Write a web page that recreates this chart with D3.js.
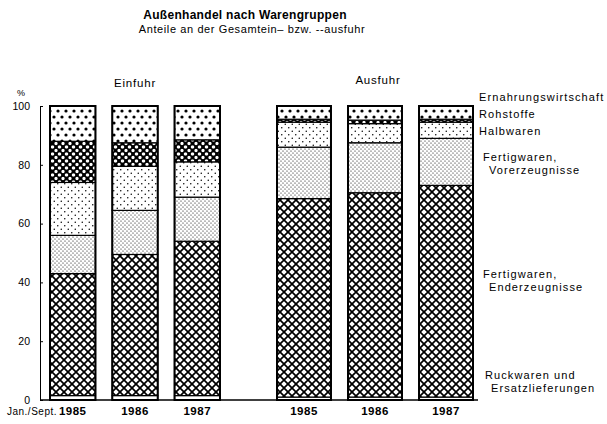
<!DOCTYPE html>
<html>
<head>
<meta charset="utf-8">
<script src="https://cdn.jsdelivr.net/npm/d3@7"></script>
<style>
  body { margin: 0; background: #fff; }
  svg { font-family: "Liberation Sans", Arial, sans-serif; }
</style>
</head>
<body>
<div id="chart"></div>
<script>
const WIDTH = 607;
const HEIGHT = 424;

// data, bottom segment first
const years = ["1985", "1986", "1987"];
const categories = ["rueckwaren", "enderzeugnisse", "vorerzeugnisse", "halbwaren", "rohstoffe", "ernaehrung"];
const einfuhrValues = [
    [1.5, 1.5, 1.5],
    [41.5, 48, 52.5],
    [13, 15, 15],
    [18, 15, 12],
    [14, 8, 7.5],
    [12, 12.5, 11.5]
];
const ausfuhrValues = [
    [1, 1, 1],
    [67.5, 69.5, 72],
    [17.5, 17, 16],
    [8.5, 6.5, 5.5],
    [1, 1.2, 1],
    [4.5, 4.8, 4.5]
];
const yTicks = [0, 20, 40, 60, 80, 100];
const legendLines = [
    ["Ernahrungswirtschaft"],
    ["Rohstoffe"],
    ["Halbwaren"],
    ["Fertigwaren,", "Vorerzeugnisse"],
    ["Fertigwaren,", "Enderzeugnisse"],
    ["Ruckwaren und", "Ersatzlieferungen"]
];

const svg = d3.select("#chart").append("svg").attr("width", WIDTH).attr("height", HEIGHT);
const defs = svg.append("defs");

// hatch / dot patterns like the print
function dotPattern(id, w, h, r, dots) {
    const p = defs.append("pattern").attr("id", id).attr("patternUnits", "userSpaceOnUse")
        .attr("width", w).attr("height", h);
    p.append("rect").attr("width", w).attr("height", h).attr("fill", "#fff");
    dots.forEach(d => p.append("circle").attr("cx", d[0]).attr("cy", d[1]).attr("r", r).attr("fill", "#000"));
    return p;
}
dotPattern("p-ern", 8, 12, 1.6, [[2, 3], [6, 9]]);
dotPattern("p-halb", 7, 7, 0.75, [[1.75, 1.75], [5.25, 5.25]]);
dotPattern("p-vor", 4, 4, 0.6, [[1, 1], [3, 3]]);

const roh = dotPattern("p-roh", 7, 7, 1.9, [[0, 0], [7, 0], [0, 7], [7, 7], [3.5, 3.5]]);
roh.append("path").attr("d", "M0,0L7,7M7,0L0,7").attr("stroke", "#000").attr("stroke-width", 1.6);

const end = defs.append("pattern").attr("id", "p-end").attr("patternUnits", "userSpaceOnUse")
    .attr("width", 8).attr("height", 8);
end.append("rect").attr("width", 8).attr("height", 8).attr("fill", "#fff");
end.append("path").attr("d", "M-1,-1L9,9M9,-1L-1,9").attr("stroke", "#000").attr("stroke-width", 1.7);

const fills = {
    rueckwaren: "#fff",
    enderzeugnisse: "url(#p-end)",
    vorerzeugnisse: "url(#p-vor)",
    halbwaren: "url(#p-halb)",
    rohstoffe: "url(#p-roh)",
    ernaehrung: "url(#p-ern)"
};

const yScale = d3.scaleLinear().domain([0, 100]).range([400, 106]);
const xEin = d3.scaleBand().domain(years).range([50, 220]).paddingInner(0.27);
const xAus = d3.scaleBand().domain(years).range([277, 473]).paddingInner(0.24);

function toRows(values) {
    return years.map((y, i) => {
        const row = { year: y };
        categories.forEach((c, k) => row[c] = values[k][i]);
        return row;
    });
}

const stack = d3.stack().keys(categories);

function drawGroup(values, x) {
    const series = stack(toRows(values));
    const g = svg.append("g");
    g.selectAll("g.layer")
        .data(series)
        .join("g")
        .attr("class", "layer")
        .attr("fill", d => fills[d.key])
        .selectAll("rect")
        .data(d => d)
        .join("rect")
        .attr("x", d => x(d.data.year))
        .attr("width", x.bandwidth())
        .attr("y", d => yScale(d[1]))
        .attr("height", d => yScale(d[0]) - yScale(d[1]))
        .attr("stroke", "#000")
        .attr("stroke-width", 1.2);
    // heavier outline round each bar
    g.selectAll("rect.outline")
        .data(years)
        .join("rect")
        .attr("class", "outline")
        .attr("x", d => x(d))
        .attr("width", x.bandwidth())
        .attr("y", yScale(100))
        .attr("height", yScale(0) - yScale(100))
        .attr("fill", "none")
        .attr("stroke", "#000")
        .attr("stroke-width", 2);

    const ax = svg.append("g")
        .attr("transform", "translate(0," + yScale(0) + ")")
        .call(d3.axisBottom(x).tickSize(0).tickPadding(7));
    ax.select(".domain").remove();
    ax.selectAll("text")
        .attr("font-size", 11.5)
        .attr("font-weight", "bold")
        .attr("letter-spacing", 0.5)
        .attr("fill", "#000");
}

drawGroup(einfuhrValues, xEin);
drawGroup(ausfuhrValues, xAus);

// y axis
const yAxis = svg.append("g")
    .attr("transform", "translate(40,0)")
    .call(d3.axisLeft(yScale).tickValues(yTicks).tickSizeInner(-3).tickSizeOuter(0).tickPadding(10));
yAxis.select(".domain").attr("stroke-width", 1);
yAxis.selectAll("text").attr("font-size", 10.5).attr("fill", "#000").attr("font-family", "Liberation Sans, Arial, sans-serif");

// baseline
svg.append("line")
    .attr("x1", 40).attr("x2", 478)
    .attr("y1", yScale(0)).attr("y2", yScale(0))
    .attr("stroke", "#000").attr("stroke-width", 1.5);

svg.append("text").attr("x", 21).attr("y", 96).attr("text-anchor", "middle")
    .attr("font-size", 9).text("%");

svg.append("text").attr("x", 57).attr("y", 415).attr("text-anchor", "end")
    .attr("font-size", 10).attr("letter-spacing", 0.5).text("Jan./Sept.");

// titles
svg.append("text").attr("x", 245).attr("y", 19).attr("text-anchor", "middle")
    .attr("font-size", 12).attr("font-weight", "bold").attr("letter-spacing", 0.3)
    .text("Außenhandel nach Warengruppen");
svg.append("text").attr("x", 252).attr("y", 33).attr("text-anchor", "middle")
    .attr("font-size", 11).attr("letter-spacing", 0.6)
    .text("Anteile an der Gesamtein\u2013 bzw. --ausfuhr");

svg.append("text").attr("x", 135).attr("y", 87).attr("text-anchor", "middle")
    .attr("font-size", 11.5).attr("letter-spacing", 0.8).text("Einfuhr");
svg.append("text").attr("x", 378).attr("y", 84).attr("text-anchor", "middle")
    .attr("font-size", 11.5).attr("letter-spacing", 0.8).text("Ausfuhr");

// legend labels beside the last bar, top to bottom
const legendY = [101, 118, 135, 161, 278, 379];
const legendX = [479, 479, 479, 483, 483, 485];
const legend = svg.append("g").attr("font-size", 11).attr("letter-spacing", 1.1);
legendLines.forEach((lines, i) => {
    lines.forEach((t, j) => {
        legend.append("text")
            .attr("x", legendX[i] + (j > 0 ? 6 : 0))
            .attr("y", legendY[i] + j * 13)
            .text(t);
    });
});
</script>
</body>
</html>
